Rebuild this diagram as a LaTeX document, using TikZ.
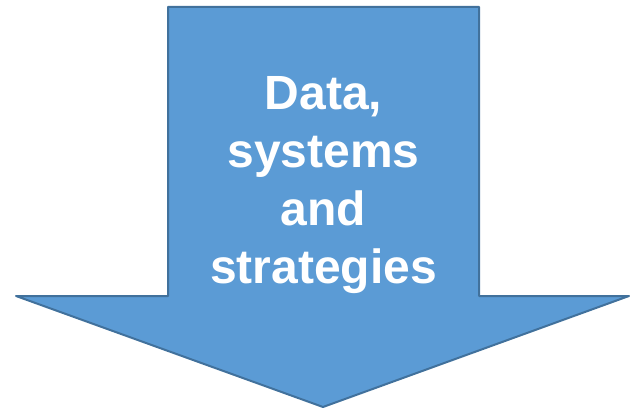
\documentclass[tikz,border=0pt]{standalone}
\usepackage{fontspec}
\setmainfont{Liberation Sans}
\definecolor{arrowfill}{HTML}{5B9BD5}
\definecolor{arrowline}{HTML}{41719C}
\begin{document}
\begin{tikzpicture}[x=1pt,y=1pt,
  lbl/.style={anchor=base,text=white,font=\fontsize{48}{57}\selectfont\bfseries,inner sep=0pt}]
\useasboundingbox (0,0) rectangle (631,410);
\draw[fill=arrowfill,draw=arrowline,line width=2pt,line join=round]
  (168,403) -- (479,403) -- (479,114) -- (629,114) -- (323,3) -- (16,114) -- (168,114) -- cycle;
\node[lbl] (l1) at (323.5,300) {Data,};
\node[lbl] (l2) at (323.5,242.3) {systems};
\node[lbl] (l3) at (323.5,184.7) {and};
\node[lbl] (l4) at (323.5,127) {strategies};
\end{tikzpicture}
\end{document}
